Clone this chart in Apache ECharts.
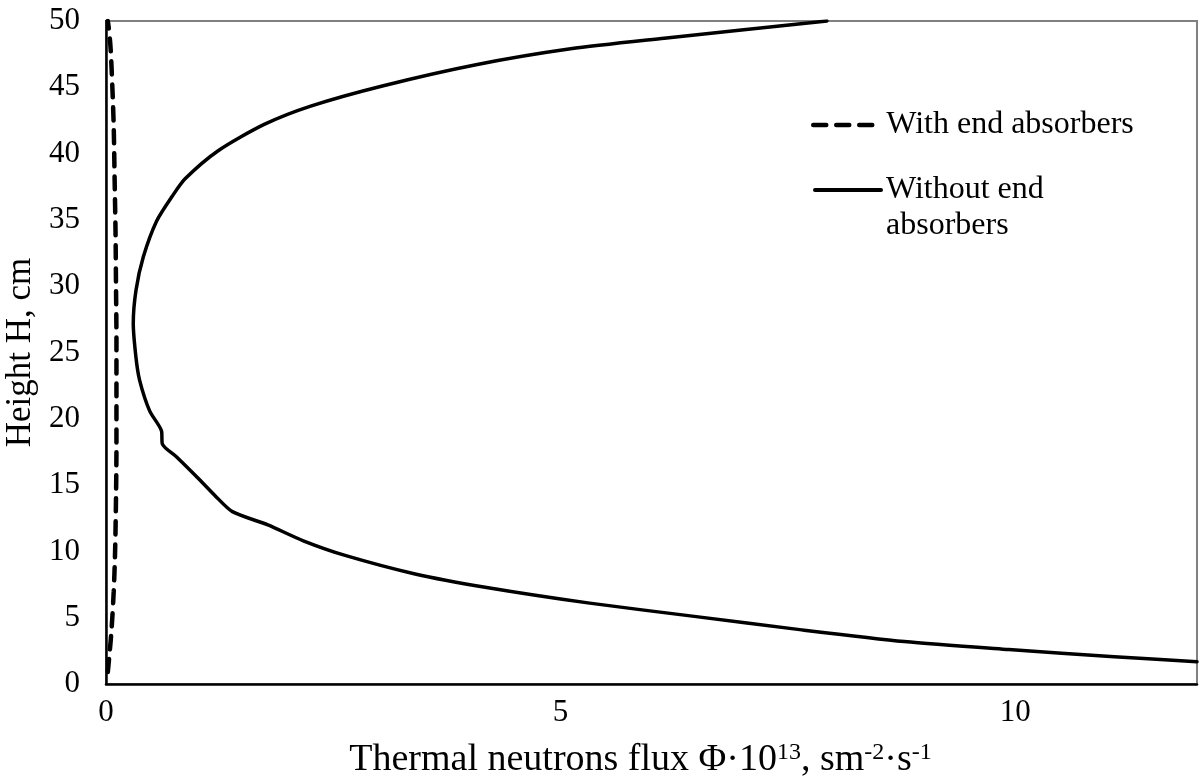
<!DOCTYPE html>
<html>
<head>
<meta charset="utf-8">
<script src="https://cdn.jsdelivr.net/npm/echarts@6/dist/echarts.min.js"></script>
<style>
  html, body { margin: 0; padding: 0; background: #ffffff; }
  #chart { width: 1200px; height: 783px; }
</style>
</head>
<body>
<div id="chart"></div>
<script>
// Axial thermal neutron flux profiles (flux in units of 10^13, height in cm)
const withAbsorbersFlux   = [0.02, 0.035, 0.06, 0.085, 0.10, 0.11, 0.115, 0.115, 0.115, 0.11, 0.105, 0.095, 0.085, 0.07, 0.05, 0.03, 0.02];
const withAbsorbersHeight = [0.9, 2, 4, 7, 10, 14, 18, 22, 26, 30, 34, 38, 42, 45, 48, 49.5, 50];

const withoutAbsorbersFlux   = [12.0, 11.09, 9.93, 8.78, 7.63, 6.47, 5.32, 4.17, 3.40, 2.63, 2.17, 1.78, 1.39, 1.20, 1.03, 0.78, 0.62, 0.61, 0.48, 0.37, 0.33, 0.30, 0.33, 0.41, 0.556, 0.73, 0.87, 1.23, 1.74, 2.26, 3.04, 4.07, 5.11, 6.14, 7.93];
const withoutAbsorbersHeight = [1.68, 2.06, 2.6, 3.2, 4.1, 5.1, 6.1, 7.3, 8.3, 9.7, 10.8, 12.0, 13.0, 14.2, 15.4, 17.1, 18.1, 19.1, 20.6, 22.9, 24.6, 27.2, 29.7, 32.2, 34.9, 36.8, 38.1, 40.2, 42.2, 43.6, 45.1, 46.7, 47.9, 48.7, 50];

const seriesNames = ['With end absorbers', 'Without end absorbers'];
const xAxisTitle = 'Thermal neutrons flux Φ·10{sup|13}, sm{sup|-2}·s{sup|-1}';
const yAxisTitle = 'Height H, cm';

const pairs = (xs, ys) => xs.map((x, i) => [x, ys[i]]);

const FONT = "'Liberation Serif', 'Times New Roman', serif";
const DASH = [13, 10];

const chart = echarts.init(document.getElementById('chart'), null, { renderer: 'canvas' });

chart.setOption({
  animation: false,
  backgroundColor: '#ffffff',
  textStyle: { fontFamily: FONT, color: '#000' },
  grid: {
    left: 106, right: 3, top: 21, bottom: 99,
    outerBoundsMode: 'none',
    containLabel: false,
    show: true, borderColor: '#808080', borderWidth: 2, backgroundColor: 'transparent'
  },
  legend: [
    {
      data: [seriesNames[0]],
      left: 806, top: 104,
      itemWidth: 68, itemHeight: 14,
      itemStyle: { opacity: 0 },
      lineStyle: { width: 4.5, type: DASH, cap: 'round' },
      textStyle: { fontFamily: FONT, fontSize: 32, color: '#000' }
    },
    {
      data: [seriesNames[1]],
      left: 808, top: 131,
      itemWidth: 66, itemHeight: 14,
      itemStyle: { opacity: 0 },
      lineStyle: { width: 4, type: 'solid' },
      // blank first line keeps the sample line level with "Without end"
      formatter: () => '\nWithout end\nabsorbers',
      textStyle: { fontFamily: FONT, fontSize: 32, lineHeight: 36, color: '#000' }
    }
  ],
  xAxis: {
    type: 'value', min: 0, max: 12, interval: 5,
    axisLine: { show: true, onZero: false, lineStyle: { color: '#000', width: 2.5 } },
    axisTick: { show: false },
    splitLine: { show: false },
    axisLabel: { showMaxLabel: false, fontFamily: FONT, fontSize: 31, color: '#000', margin: 13 },
    name: xAxisTitle,
    nameLocation: 'middle',
    nameGap: 57,
    nameTextStyle: {
      fontFamily: FONT, fontSize: 38, color: '#000',
      padding: [0, 22, 0, 0],
      rich: { sup: { fontFamily: FONT, fontSize: 24, color: '#000', verticalAlign: 'top' } }
    }
  },
  yAxis: {
    type: 'value', min: 0, max: 50, interval: 5,
    axisLine: { show: true, onZero: false, lineStyle: { color: '#000', width: 2.5 } },
    axisTick: { show: false },
    splitLine: { show: false },
    axisLabel: { fontFamily: FONT, fontSize: 31, color: '#000', margin: 26 },
    name: yAxisTitle,
    nameLocation: 'middle',
    nameGap: 54,
    nameTextStyle: { fontFamily: FONT, fontSize: 35, color: '#000' }
  },
  series: [
    {
      name: seriesNames[0],
      type: 'line',
      data: pairs(withAbsorbersFlux, withAbsorbersHeight),
      showSymbol: false, symbol: 'none',
      smooth: 0.3,
      lineStyle: { color: '#000', width: 4.5, type: DASH, cap: 'round' },
      itemStyle: { color: '#000' }
    },
    {
      name: seriesNames[1],
      type: 'line',
      data: pairs(withoutAbsorbersFlux, withoutAbsorbersHeight),
      showSymbol: false, symbol: 'none',
      smooth: 0.25,
      lineStyle: { color: '#000', width: 3.5, type: 'solid', cap: 'round', join: 'round' },
      itemStyle: { color: '#000' }
    }
  ]
});
</script>
</body>
</html>
